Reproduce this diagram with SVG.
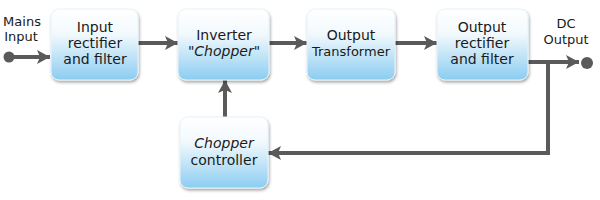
<svg xmlns="http://www.w3.org/2000/svg" width="600" height="200" viewBox="0 0 600 200">
<style>
.box{fill:url(#g);stroke:#e6f3fb;stroke-width:1;filter:url(#sh)}
.t{font-family:"DejaVu Sans",Verdana,sans-serif;font-size:14px;fill:#1a1a1a;text-anchor:middle}
.s{font-size:13px}
.i{font-style:italic}
.c{stroke:#5a5a5a;stroke-width:4;fill:none;marker-end:url(#a)}
</style>
<defs>
<linearGradient id="g" x1="0" y1="0" x2="0" y2="1">
<stop offset="0" stop-color="#ffffff"/>
<stop offset="0.35" stop-color="#f2f9fd"/>
<stop offset="1" stop-color="#8bcdf1"/>
</linearGradient>
<filter id="sh" x="-10%" y="-10%" width="125%" height="130%">
<feGaussianBlur in="SourceAlpha" stdDeviation="1.5"/>
<feOffset dx="1" dy="2" result="b"/>
<feComponentTransfer><feFuncA type="linear" slope="0.35"/></feComponentTransfer>
<feMerge><feMergeNode/><feMergeNode in="SourceGraphic"/></feMerge>
</filter>
<marker id="a" markerUnits="userSpaceOnUse" markerWidth="14" markerHeight="16" refX="13" refY="8" orient="auto" viewBox="0 0 14 16">
<path d="M0,1 L13,8 L0,15 L3,8 Z" fill="#5a5a5a"/>
</marker>
</defs>
<g id="connectors">
<circle cx="9" cy="57" r="5.5" fill="#5a5a5a"/>
<path class="c" d="M9,57 H50"/>
<path class="c" d="M138,43 H178"/>
<path class="c" d="M269,43 H307"/>
<path class="c" d="M395,43 H437"/>
<path class="c" d="M528,62 H579"/>
<circle cx="587" cy="63" r="6" fill="#5a5a5a"/>
<path class="c" d="M548,62 V153 H268"/>
<path class="c" d="M225,117 V80"/>
</g>
<g id="mains-label"><text class="t s" x="22" y="26">Mains</text><text class="t s" x="21" y="41">Input</text></g>
<g id="dc-label"><text class="t s" x="566" y="28">DC</text><text class="t s" x="566" y="44">Output</text></g>
<g id="input-rectifier">
<rect class="box" x="51" y="9" width="87" height="71" rx="8"/>
<text class="t" x="95" y="32">Input</text><text class="t" x="95" y="48">rectifier</text><text class="t" x="95" y="64">and filter</text>
</g>
<g id="inverter">
<rect class="box" x="178" y="9" width="91" height="71" rx="8"/>
<text class="t" x="224" y="40">Inverter</text><text class="t i" x="224" y="56">"Chopper"</text>
</g>
<g id="output-transformer">
<rect class="box" x="307" y="9" width="88" height="71" rx="8"/>
<text class="t" x="351" y="40">Output</text><text class="t s" x="351" y="56">Transformer</text>
</g>
<g id="output-rectifier">
<rect class="box" x="437" y="9" width="91" height="71" rx="8"/>
<text class="t" x="482" y="32">Output</text><text class="t" x="482" y="48">rectifier</text><text class="t" x="482" y="64">and filter</text>
</g>
<g id="chopper-controller">
<rect class="box" x="180" y="117" width="88" height="71" rx="8"/>
<text class="t i" x="224" y="148">Chopper</text><text class="t" x="224" y="165">controller</text>
</g>
</svg>
